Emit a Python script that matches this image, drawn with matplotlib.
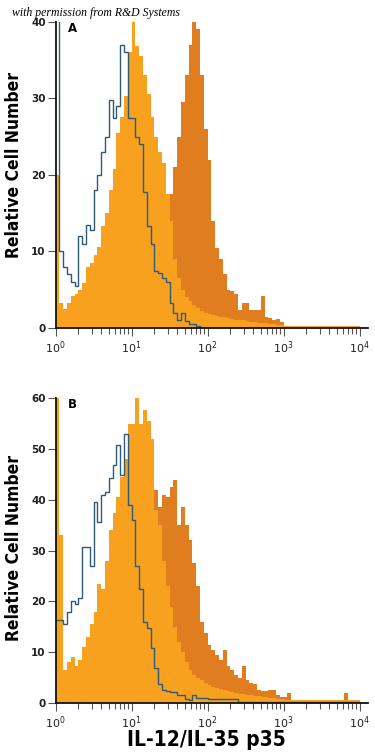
import numpy as np
import matplotlib
matplotlib.use("Agg")
import matplotlib.pyplot as plt
from matplotlib.ticker import LogLocator, FixedLocator, NullFormatter

plt.rcParams['font.family'] = ['DejaVu Sans']

# Log10 channel bins: 80 bins of 0.05 decade from 10^0 to 10^4
edge_exponents = np.arange(81) * 0.05

# ---------- Panel A ----------
blue_a = [40.5, 10, 8, 7, 6, 5.5, 12, 11, 13.5, 12.8,
          18, 20, 23, 25, 29.8, 27.4, 29, 37, 36, 27.4,
          27.4, 25, 24, 17.7, 13.3, 11, 7.5, 7.2, 6.5, 6,
          3.3, 2, 1.1, 2, 0.9, 0.5, 0.5, 0.3, 0, 0] + [0] * 40

light_a = [20, 3.3, 2.5, 3.3, 4.2, 4.5, 5, 5.9, 8, 8.5,
           9.5, 10.6, 13.3, 15, 18, 20.7, 25.4, 27.5, 30.3, 36,
           40, 36.8, 35.5, 33, 30.5, 27.5, 25, 23, 21.5, 17.5,
           14, 9, 6.5, 5, 4, 3.5, 3, 2.6, 2.2, 2,
           1.8, 1.7, 1.6, 1.5, 1.4, 1.3, 1.2, 1.1, 1.0, 1.0,
           0.9, 0.8, 0.8, 0.7, 0.6, 0.6, 0.5, 0.5, 0.4, 0.4] + [0.3] * 20

dark_a = [0] * 25 + [5, 7, 9, 12, 15,
                     17.5, 21, 25, 29.5, 33, 37, 40, 39, 33, 26,
                     22, 14, 10.5, 9, 7, 5, 4.8, 4.5, 2.4, 3.3,
                     3.3, 2.3, 2.3, 2.3, 4.2, 1.5, 1.3, 1.0, 1.2, 0.8] + [0] * 20

# ---------- Panel B ----------
blue_b = [16.3, 16.3, 15.5, 18, 20, 19.5, 20.7, 30.8, 30.8, 27,
          39.6, 35.7, 40.9, 41.6, 44.3, 46.8, 50.8, 44.9, 53, 39,
          36, 27, 22.5, 16, 14.7, 10.8, 6.9, 3.8, 2.6, 2.4,
          2.2, 2.2, 1.6, 1.6, 0.8, 0.6, 1.6, 0.9, 0.9, 0.9] + [0.8] * 8 + [0.2] * 32

light_b = [60, 33, 6.5, 8, 9, 7.3, 8.4, 11, 13, 15.5,
           18, 23.5, 22.5, 28, 34, 37.5, 40.6, 44.5, 48, 55,
           55, 60.3, 55, 57.6, 55.5, 52, 38, 35, 28, 23,
           19, 15, 12, 10, 8, 6.5, 5.5, 5, 4.5, 4,
           3.5, 3.2, 3, 2.8, 2.6, 2.4, 2.2, 2, 1.8, 1.7,
           1.6, 1.5, 1.4, 1.3, 1.2, 1.1, 1.0, 0.9, 0.8, 0.7] + [0.6] * 20

dark_b = [0] * 22 + [20, 25, 32, 38,
                     41.9, 38.5, 41, 40.5,
                     42.6, 44, 35, 38.5, 35, 32, 27.5, 23, 16, 13.8,
                     11.5, 10.5, 9.5, 8.5, 10.5, 7.2, 6.5, 5.5, 5, 7.2,
                     4.5, 4, 3.8, 2.6, 2.3, 2.3, 2.6, 2.6, 1.6, 1.2,
                     1.2, 2, 0.6, 0.6, 0.6, 0.6, 0.6, 0.6, 0.6, 0.6,
                     0.6, 0.6, 0.6, 0.6, 0.6, 0.6, 2, 0.5, 0.5, 0.5]

panel_labels = ["A", "B"]
y_ticks_a = [0, 10, 20, 30, 40]
y_ticks_b = [0, 10, 20, 30, 40, 50, 60]
x_decades = [0, 1, 2, 3, 4]
x_tick_labels = [r"$10^{%d}$" % d for d in x_decades]
y_label = "Relative Cell Number"
x_label = "IL-12/IL-35 p35"
credit = "with permission from R&D Systems"

LIGHT = "#F7A11F"
DARK = "#E07D1E"
BLUE = "#2e5a78"

W, H = 375, 752
fig = plt.figure(figsize=(W / 100, H / 100), dpi=100)
edges = 10 ** edge_exponents
x_max = 10 ** ((368 - 55.5) / 76)

def style(ax, yticks, ymax):
    ax.set_xscale("log")
    ax.set_xlim(1, x_max)
    ax.set_ylim(0, ymax)
    for s in ("top", "right"):
        ax.spines[s].set_visible(False)
    for s in ("left", "bottom"):
        ax.spines[s].set_linewidth(1.3)
        ax.spines[s].set_color("#111111")
    ax.set_yticks(yticks)
    ax.set_yticklabels([str(t) for t in yticks], fontsize=7.5, fontweight="bold", color="#222222")
    ax.xaxis.set_major_locator(FixedLocator([10 ** d for d in x_decades]))
    ax.set_xticklabels(x_tick_labels, fontsize=8, color="#222222")
    ax.xaxis.set_minor_locator(LogLocator(base=10, subs=np.arange(2, 10), numticks=20))
    ax.xaxis.set_minor_formatter(NullFormatter())
    ax.tick_params(axis="y", length=6, width=0.8, color="#555555", pad=1)
    ax.tick_params(axis="x", which="major", length=6, width=0.8, color="#555555", pad=2)
    ax.tick_params(axis="x", which="minor", length=4, width=0.8, color="#555555")
    ax.set_facecolor("white")

axA = fig.add_axes([55.5 / W, (H - 328) / H, (368 - 55.5) / W, 306.3 / H])
axA.stairs(dark_a, edges, fill=True, color=DARK, lw=0)
axA.stairs(light_a, edges, fill=True, color=LIGHT, lw=0)
axA.stairs(blue_a, edges, fill=False, color=BLUE, lw=1.0, baseline=None)
style(axA, y_ticks_a, 40)
axA.text(72 / W, (H - 29) / H, panel_labels[0], transform=fig.transFigure,
         fontsize=8.5, fontweight="bold", ha="center", va="center")

axB = fig.add_axes([55.5 / W, (H - 703) / H, (368 - 55.5) / W, 304.7 / H])
axB.stairs(dark_b, edges, fill=True, color=DARK, lw=0)
axB.stairs(light_b, edges, fill=True, color=LIGHT, lw=0)
axB.stairs(blue_b, edges, fill=False, color=BLUE, lw=1.0, baseline=None)
style(axB, y_ticks_b, 60)
axB.text(72 / W, (H - 404) / H, panel_labels[1], transform=fig.transFigure,
         fontsize=8.5, fontweight="bold", ha="center", va="center")

fig.text(14 / W, (H - 165) / H, y_label, rotation=90, ha="center", va="center",
         fontsize=12.5, fontweight="bold", fontstretch="condensed")
fig.text(14 / W, (H - 548) / H, y_label, rotation=90, ha="center", va="center",
         fontsize=12.5, fontweight="bold", fontstretch="condensed")
fig.text(206 / W, (H - 746) / H, x_label, ha="center", va="baseline",
         fontsize=15, fontweight="bold", fontstretch="condensed")
fig.text(12 / W, (H - 13) / H, credit, ha="left", va="center", fontsize=8.5,
         style="italic", family=["Liberation Serif", "DejaVu Serif"])

fig.savefig("out.png", dpi=100, facecolor="white")
